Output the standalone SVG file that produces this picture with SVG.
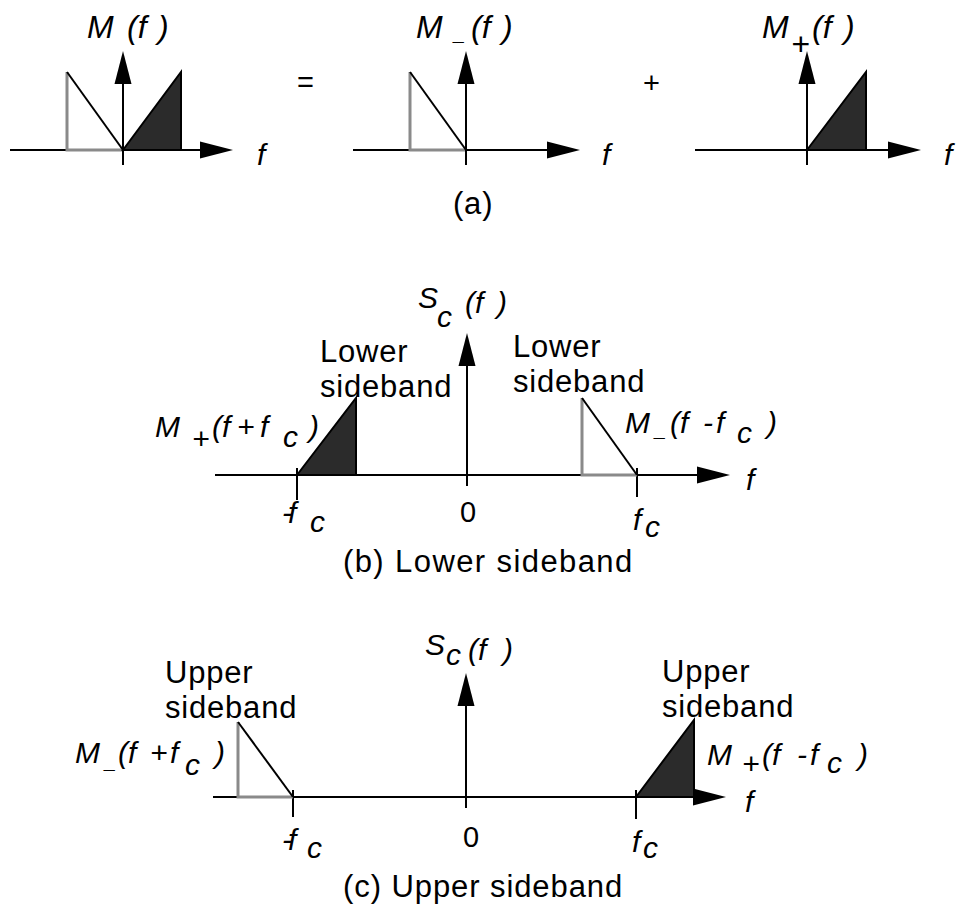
<svg xmlns="http://www.w3.org/2000/svg" width="956" height="911" viewBox="0 0 956 911">
<defs>
<style>
.ax{stroke:#000;stroke-width:2;fill:none}
.gr{stroke:#8a8a8a;stroke-width:3;fill:none;stroke-linejoin:miter}
.dg{stroke:#000;stroke-width:2;fill:none}
.fl{fill:#2b2b2b;stroke:#000;stroke-width:2;stroke-linejoin:miter}
.t{font-family:"Liberation Sans",Arial,sans-serif;font-size:31px;fill:#000;letter-spacing:0.8px}
.i{font-family:"Liberation Sans",Arial,sans-serif;font-style:italic;font-size:30px;fill:#000}
.n{font-family:"Liberation Sans",Arial,sans-serif;font-size:29px;fill:#000}
.us{font-size:20px}
.mf{letter-spacing:-4px}
</style>
<marker id="ah" markerUnits="userSpaceOnUse" markerWidth="34" markerHeight="18" refX="0" refY="8.5" orient="auto" overflow="visible">
<path d="M0,0 L33,8.5 L0,17 Z" fill="#000"/>
</marker>
</defs>
<rect width="956" height="911" fill="#fff"/>

<g id="panel-a-M">
<line class="ax" x1="10" y1="150" x2="200" y2="150" marker-end="url(#ah)"/>
<polyline class="gr" points="67,72 67,150 123,150"/>
<line class="dg" x1="67" y1="72" x2="123" y2="150"/>
<polygon class="fl" points="123,150 181,72 181,150"/>
<line class="ax" x1="123" y1="165" x2="123" y2="84" marker-end="url(#ah)"/>
<text class="i" style="font-size:32px"><tspan x="87" y="38">M </tspan><tspan x="127">(f </tspan><tspan x="158">)</tspan></text>
<text class="i" x="257" y="165">f</text>
</g>

<text id="equals" class="n" x="297" y="92">=</text>

<g id="panel-a-Mminus">
<line class="ax" x1="353" y1="150" x2="547" y2="150" marker-end="url(#ah)"/>
<polyline class="gr" points="410,72 410,150 466,150"/>
<line class="dg" x1="410" y1="72" x2="466" y2="150"/>
<line class="ax" x1="466" y1="165" x2="466" y2="84" marker-end="url(#ah)"/>
<text class="i" style="font-size:32px"><tspan x="416" y="38">M </tspan><tspan class="us" x="454" y="40">_</tspan><tspan x="471" y="38">(f </tspan><tspan x="502">)</tspan></text>
<text class="i" x="602" y="165">f</text>
</g>

<text id="plus" class="n" x="643" y="93">+</text>

<g id="panel-a-Mplus">
<line class="ax" x1="695" y1="150" x2="888" y2="150" marker-end="url(#ah)"/>
<polygon class="fl" points="807,150 866,72 866,150"/>
<line class="ax" x1="807" y1="165" x2="807" y2="84" marker-end="url(#ah)"/>
<text class="i" style="font-size:32px"><tspan x="762" y="38">M</tspan><tspan x="791" y="55">+</tspan><tspan x="812" y="38">(f </tspan><tspan x="844">)</tspan></text>
<text class="i" x="944" y="165">f</text>
</g>

<text id="caption-a" class="t" x="453" y="214">(a)</text>

<g id="panel-b">
<line class="ax" x1="215" y1="475" x2="697" y2="475" marker-end="url(#ah)"/>
<line class="ax" x1="297" y1="468" x2="297" y2="500"/>
<line class="ax" x1="637" y1="468" x2="637" y2="497"/>
<polygon class="fl" points="297,475 356,398 356,475"/>
<polyline class="gr" points="582,398 582,475 637,475"/>
<line class="dg" x1="582" y1="398" x2="637" y2="475"/>
<line class="ax" x1="467" y1="486" x2="467" y2="366" marker-end="url(#ah)"/>
<text class="i"><tspan x="418" y="308">S</tspan><tspan x="437" y="327">c </tspan><tspan x="465" y="313">(f </tspan><tspan x="497">)</tspan></text>
<text class="t"><tspan x="320" y="362">Lower</tspan><tspan x="320" y="397">sideband</tspan></text>
<text class="t"><tspan x="513" y="357">Lower</tspan><tspan x="513" y="392">sideband</tspan></text>
<text class="i"><tspan x="155" y="437">M </tspan><tspan x="192" y="449">+</tspan><tspan x="212" y="437">(f </tspan><tspan x="237">+</tspan><tspan x="260">f</tspan><tspan x="283" y="447">c </tspan><tspan x="309" y="437">)</tspan></text>
<text class="i"><tspan x="625" y="433">M</tspan><tspan class="us" x="655" y="436">_</tspan><tspan x="670" y="433">(f </tspan><tspan x="703">-</tspan><tspan x="716">f</tspan><tspan x="737" y="443">c </tspan><tspan x="767" y="433">)</tspan></text>
<text class="i"><tspan class="mf" x="282" y="523">-f</tspan><tspan x="310" y="532">c</tspan></text>
<text class="n" x="460" y="522">0</text>
<text class="i"><tspan x="633" y="530">f</tspan><tspan x="645" y="537">c</tspan></text>
<text class="i" x="746" y="490">f</text>
<text class="t" x="343" y="572" textLength="290">(b) Lower sideband</text>
</g>

<g id="panel-c">
<line class="ax" x1="213" y1="797" x2="693" y2="797" marker-end="url(#ah)"/>
<line class="ax" x1="293" y1="790" x2="293" y2="817"/>
<line class="ax" x1="636" y1="790" x2="636" y2="819"/>
<polyline class="gr" points="238,722 238,797 293,797"/>
<line class="dg" x1="238" y1="722" x2="293" y2="797"/>
<polygon class="fl" points="636,797 694,720 694,797"/>
<line class="ax" x1="466" y1="808" x2="466" y2="706" marker-end="url(#ah)"/>
<text class="i"><tspan x="425" y="655">S</tspan><tspan x="446" y="665">c </tspan><tspan x="468" y="660">(f </tspan><tspan x="503">)</tspan></text>
<text class="t"><tspan x="165" y="683">Upper</tspan><tspan x="165" y="718">sideband</tspan></text>
<text class="t"><tspan x="662" y="682">Upper</tspan><tspan x="662" y="717">sideband</tspan></text>
<text class="i"><tspan x="75" y="763">M</tspan><tspan class="us" x="105" y="768">_</tspan><tspan x="118" y="763">(f </tspan><tspan x="150">+</tspan><tspan x="170">f</tspan><tspan x="185" y="775">c </tspan><tspan x="215" y="763">)</tspan></text>
<text class="i"><tspan x="707" y="765">M </tspan><tspan x="742" y="774">+</tspan><tspan x="762" y="765">(f </tspan><tspan x="797">-</tspan><tspan x="810">f</tspan><tspan x="827" y="773">c </tspan><tspan x="858" y="765">)</tspan></text>
<text class="i"><tspan class="mf" x="282" y="850">-f</tspan><tspan x="307" y="858">c</tspan></text>
<text class="n" x="463" y="847">0</text>
<text class="i"><tspan x="632" y="852">f</tspan><tspan x="643" y="858">c</tspan></text>
<text class="i" x="745" y="812">f</text>
<text class="t" x="343" y="897" textLength="280">(c) Upper sideband</text>
</g>
</svg>
